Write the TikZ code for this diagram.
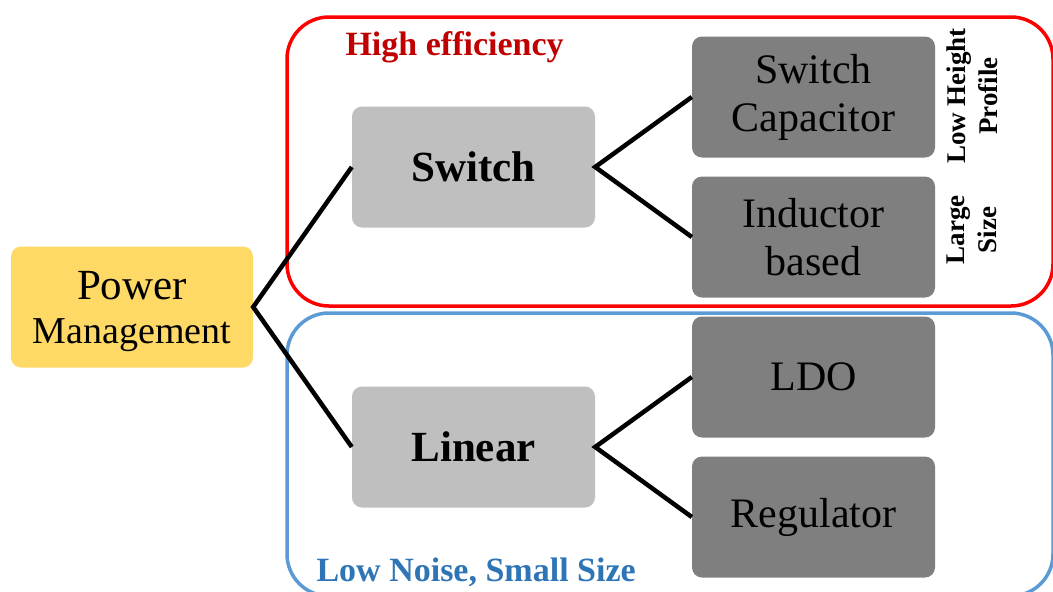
\documentclass[tikz,border=0pt]{standalone}
\usepackage{fontspec}
\setmainfont{Liberation Serif}
\newfontfamily\serifreg{Liberation Serif}
\definecolor{pmyellow}{HTML}{FFD966}
\definecolor{lgray}{HTML}{BFBFBF}
\definecolor{dgray}{HTML}{7F7F7F}
\definecolor{hired}{HTML}{FF0000}
\definecolor{hitext}{HTML}{C00000}
\definecolor{loblue}{HTML}{5B9BD5}
\definecolor{lotext}{HTML}{2E75B6}
\begin{document}
\begin{tikzpicture}[x=1pt,y=-1pt,
  box/.style={rounded corners=10pt, minimum width=243pt, minimum height=121pt, inner sep=0pt, align=center, text=black},
  midbox/.style={box, fill=lgray, font=\serifreg\bfseries\fontsize{43}{48}\selectfont},
  leafbox/.style={box, fill=dgray, font=\serifreg\fontsize{42}{48}\selectfont},
  conn/.style={line width=4.5pt, black},
  grp/.style={line width=3.5pt, rounded corners=42pt},
  grplabel/.style={font=\serifreg\bfseries\fontsize{34}{38}\selectfont, anchor=west},
  side/.style={font=\serifreg\bfseries\fontsize{27}{32}\selectfont, rotate=90, align=center}]
\useasboundingbox (0,0) rectangle (1053,592);
\draw[grp, hired] (287,17) rectangle (1053,306);
\draw[grp, loblue] (287,313) rectangle (1053,596);
\node[grplabel, text=hitext] (hl) at (342,47) {High efficiency};
\node[grplabel, text=lotext] (ll) at (313,572) {Low Noise, Small Size};
\node[box, fill=pmyellow, minimum width=242pt, font=\serifreg\fontsize{43}{46}\selectfont] (pm) at (132,307) {\rule{0pt}{38pt}Power\\[-2pt]{\fontsize{38}{42}\selectfont Management}};
\node[midbox] (sw) at (473.5,167) {Switch};
\node[midbox] (li) at (473.5,447) {Linear};
\node[leafbox] (sc) at (813.5,97) {Switch\\Capacitor};
\node[leafbox] (ib) at (813.5,237) {Inductor\\based};
\node[leafbox] (ldo) at (813.5,377) {LDO};
\node[leafbox] (reg) at (813.5,517) {Regulator};
\node[side] (lhp) at (972,96) {Low Height\\Profile};
\node[side] (ls) at (972,230) {Large\\Size};
\draw[conn] (sw.west) -- (pm.east) -- (li.west);
\draw[conn] (sc.west) -- (sw.east) -- (ib.west);
\draw[conn] (ldo.west) -- (li.east) -- (reg.west);
\end{tikzpicture}
\end{document}
